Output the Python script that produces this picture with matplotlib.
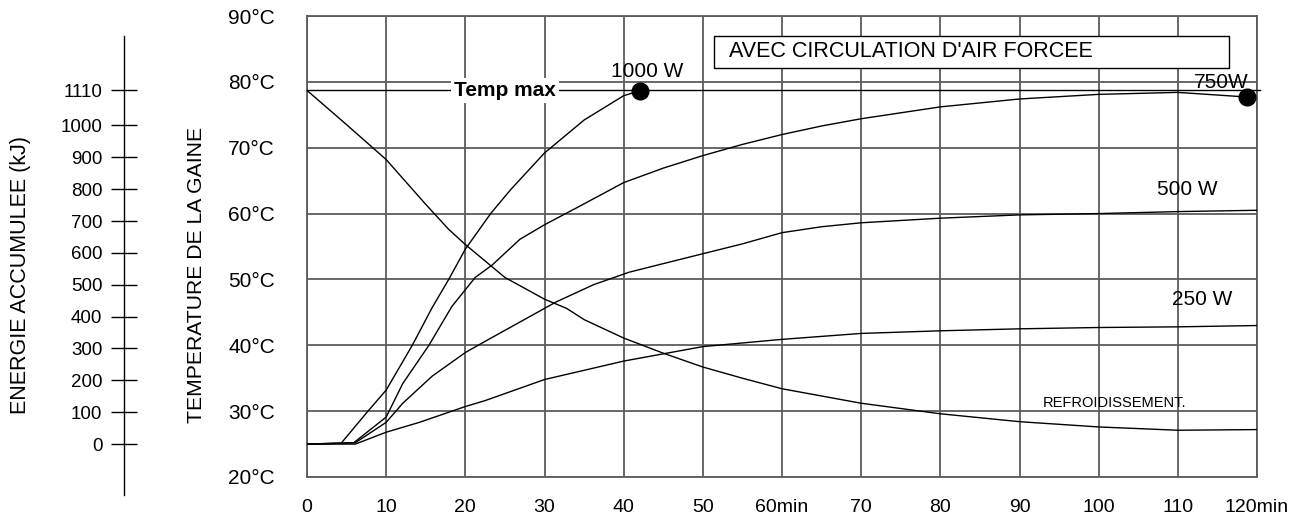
import matplotlib
matplotlib.use("Agg")
import matplotlib.pyplot as plt
from matplotlib.patches import Rectangle

plt.rcParams['font.family'] = ['Liberation Sans', 'DejaVu Sans']

# ---- data (time in min, temperature in °C) ----
t_1000 = [0, 4.3, 7.7, 10, 13.3, 15.8, 17.9, 20, 23.2, 25.7, 30, 35, 40, 42.1]
T_1000 = [25, 25.1, 30, 33.2, 40, 45.7, 50, 54.6, 60, 63.6, 69.2, 74.2, 77.9, 78.65]

t_750 = [0, 5.9, 10, 12.1, 15.4, 18.3, 21.25, 23.4, 26.9, 30, 34.1, 40, 45, 50, 55, 60, 65, 70, 75, 80, 90, 100, 110, 118.7]
T_750 = [25, 25.2, 29.1, 34.2, 40, 45.9, 50.3, 52.2, 56.1, 58.3, 60.9, 64.7, 66.9, 68.8, 70.5, 72, 73.3, 74.4, 75.3, 76.2, 77.4, 78.1, 78.4, 77.7]

t_500 = [0, 6.1, 10, 12.1, 15.8, 20, 22.5, 30, 31.5, 36.2, 40.7, 45, 50, 55, 60, 65, 70, 80, 90, 100, 110, 120]
T_500 = [25, 25.2, 28.3, 31.2, 35.3, 38.9, 40.6, 45.6, 46.6, 49.2, 51.1, 52.4, 53.9, 55.4, 57.1, 58.0, 58.6, 59.3, 59.8, 60, 60.3, 60.5]

t_250 = [0, 6.1, 10, 14.2, 20, 22.5, 30, 35, 40, 50, 60, 70, 80, 90, 100, 110, 120]
T_250 = [25, 25, 26.8, 28.3, 30.7, 31.6, 34.8, 36.2, 37.6, 39.8, 40.9, 41.8, 42.2, 42.5, 42.7, 42.8, 43.0]

t_cool = [0, 5, 10, 15, 17.9, 20, 22.5, 25, 30, 32.8, 35, 40, 45, 50, 55, 60, 65, 70, 75, 80, 90, 100, 110, 120]
T_cool = [78.7, 73.5, 68.2, 61.4, 57.6, 55.3, 52.8, 50.3, 47.0, 45.6, 43.9, 41.1, 38.8, 36.7, 35.0, 33.4, 32.3, 31.2, 30.4, 29.6, 28.4, 27.6, 27.1, 27.2]

T_MAX = 78.7
T_START = 25
E_MAX = 1110

x_ticks = list(range(0, 130, 10))
x_labels = ['0', '10', '20', '30', '40', '50', '60min', '70', '80', '90', '100', '110', '120min']
y_ticks = list(range(20, 100, 10))
y_labels = [f'{v}°C' for v in y_ticks]
e_ticks = [0, 100, 200, 300, 400, 500, 600, 700, 800, 900, 1000, 1110]

dot_t = [t_1000[-1], t_750[-1]]
dot_T = [T_1000[-1], T_750[-1]]

# ---- figure ----
W, H = 1295, 517
fig = plt.figure(figsize=(W / 100, H / 100), dpi=100)
L, R, TOP, BOT = 307, 1257, 16, 477
ax = fig.add_axes([L / W, 1 - BOT / H, (R - L) / W, (BOT - TOP) / H])

grid_c = '#5c5c5c'
ax.set_xlim(0, 120)
ax.set_ylim(20, 90)
ax.set_xticks(x_ticks)
ax.set_xticklabels(x_labels, fontsize=14)
ax.set_yticks(y_ticks)
ax.set_yticklabels(y_labels, fontsize=15)
ax.tick_params(axis='x', length=0, pad=15.5)
ax.tick_params(axis='y', length=0, pad=23)
ax.grid(True, color=grid_c, lw=1.3)
for s in ax.spines.values():
    s.set_color(grid_c)
    s.set_linewidth(1.3)

# Temp max line
ax.plot([0, 120.4], [T_MAX, T_MAX], color='black', lw=1.0, clip_on=False, zorder=3)
ax.text(25, T_MAX, 'Temp max', fontsize=15, fontweight='bold', ha='center', va='center',
        bbox=dict(facecolor='white', edgecolor='none', pad=2), zorder=4)

for tt, TT in [(t_1000, T_1000), (t_750, T_750), (t_500, T_500), (t_250, T_250), (t_cool, T_cool)]:
    ax.plot(tt, TT, color='black', lw=1.0, zorder=5, solid_joinstyle='round')
ax.plot(dot_t, dot_T, 'o', color='black', ms=12, zorder=6, clip_on=False)

ax.text(43.0, 81.5, '1000 W', fontsize=15, ha='center', va='center', zorder=6)
ax.text(115.5, 79.9, '750W', fontsize=15, ha='center', va='center', zorder=6)
ax.text(111.2, 63.7, '500 W', fontsize=15, ha='center', va='center', zorder=6)
ax.text(113.1, 46.9, '250 W', fontsize=15, ha='center', va='center', zorder=6)
ax.text(102, 31.2, 'REFROIDISSEMENT.', fontsize=10.5, ha='center', va='center', zorder=6)

ax.add_patch(Rectangle((51.4, 82.1), 65.1, 4.85, facecolor='white', edgecolor='black', lw=1.0, zorder=4))
ax.text(53.3, 84.6, "AVEC CIRCULATION D'AIR FORCEE", fontsize=15.5, ha='left', va='center', zorder=5)

# ---- energy axis ----
px_per_deg = (BOT - TOP) / 70.0
e_top_px, e_bot_px = 36, 495
T_at_top = 90 + (TOP - e_top_px) / px_per_deg
T_at_bot = 20 - (e_bot_px - BOT) / px_per_deg
to_E = lambda T: (T - T_START) * E_MAX / (T_MAX - T_START)
spine_x = 124
ax2 = fig.add_axes([spine_x / W, 1 - e_bot_px / H, 0.001, (e_bot_px - e_top_px) / H])
ax2.set_ylim(to_E(T_at_bot), to_E(T_at_top))
ax2.set_xticks([])
ax2.set_yticks(e_ticks)
ax2.set_yticklabels([str(v) for v in e_ticks], fontsize=13.5)
ax2.tick_params(axis='y', direction='inout', length=19, width=1.0, pad=6)
for k in ['right', 'top', 'bottom']:
    ax2.spines[k].set_visible(False)
ax2.spines['left'].set_linewidth(1.0)
ax2.patch.set_visible(False)

fig.text(21 / W, 1 - 275 / H, 'ENERGIE ACCUMULEE (kJ)', rotation=90, fontsize=15.5,
         ha='center', va='center')
fig.text(196 / W, 1 - 275 / H, 'TEMPERATURE DE LA GAINE', rotation=90, fontsize=15.2,
         ha='center', va='center')

fig.savefig('out.png', dpi=100)
